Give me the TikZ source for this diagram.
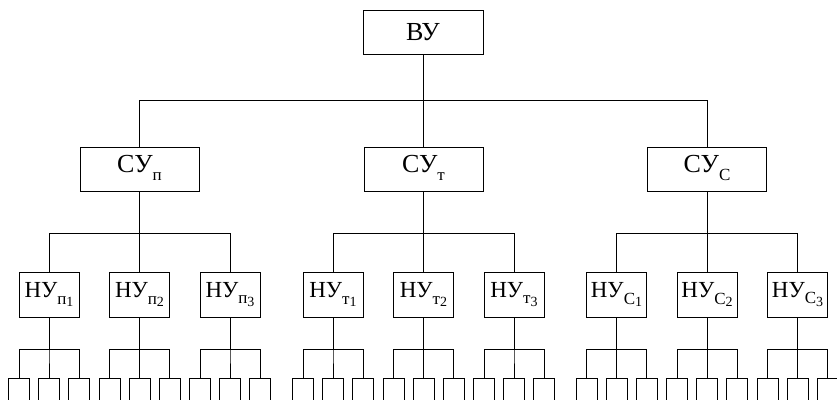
\documentclass[tikz,border=0pt]{standalone}
\usepackage{fontspec}
\setmainfont{Liberation Serif}
\usetikzlibrary{positioning}

% subscript with an optional index, set lower than usual
\newcommand{\ix}[2]{\raisebox{-0.6ex}{\fontsize{17}{17}\selectfont #1\raisebox{-0.3ex}{\fontsize{14}{14}\selectfont #2}}}

\begin{document}
\begin{tikzpicture}[
  x=1pt, y=-1pt,
  box/.style={draw, line width=1pt, inner sep=0pt, minimum height=44pt, font=\fontsize{26}{26}\selectfont},
  topbox/.style={box, minimum width=120pt},
  midbox/.style={box, minimum width=119pt},
  lowbox/.style={box, minimum width=60pt, minimum height=45pt, font=\fontsize{23}{23}\selectfont},
  leaf/.style={draw, line width=1pt, inner sep=0pt, minimum width=21pt, minimum height=60pt, anchor=north},
  wire/.style={line width=1pt},
]
  \useasboundingbox (0,0) rectangle (837,399);
  \clip (0,0) rectangle (837,399);

  \node[topbox] (vu) at (423,32) {ВУ};

  % three branches, three units each, three leaves per unit
  \foreach \g/\s/\x in {p/п/139.5, t/т/423.5, c/С/707} {
    \node[midbox] (su-\g) at (\x,169) {СУ\ix{\s}{}};
    \draw[wire] (vu.south) -- (423,100) -| (su-\g.north);
    \foreach \n in {1,2,3} {
      \node[lowbox] (nu-\g\n) at ({\x+(\n-2)*90.5},294.5) {НУ\ix{\s}{\n}};
      \draw[wire] (su-\g.south) -- (\x,233) -| (nu-\g\n.north);
      \foreach \k in {1,2,3} {
        \node[leaf] (leaf-\g\n\k) at ({\x+(\n-2)*90.5+(\k-2)*30},378) {};
        \draw[wire] (nu-\g\n.south) -- ++(0,32) -| (leaf-\g\n\k.north);
      }
    }
  }
\end{tikzpicture}
\end{document}
